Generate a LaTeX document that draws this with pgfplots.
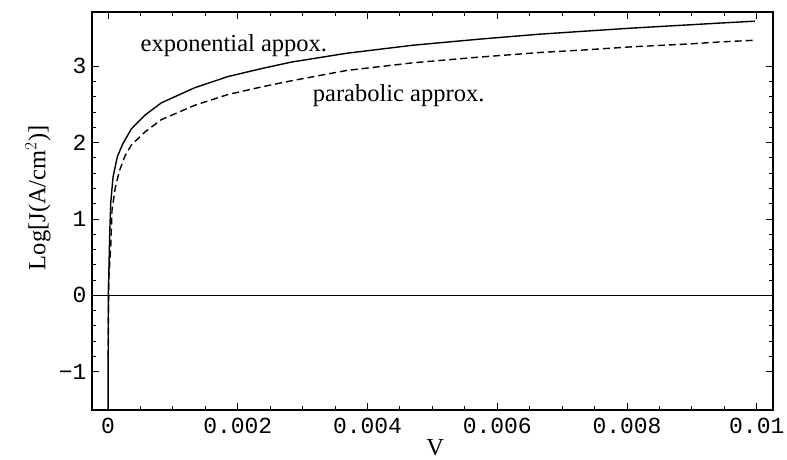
\documentclass[border=0pt]{standalone}
\usepackage{fontspec}
\setmainfont{Liberation Serif}
\newfontfamily\tickfont{Liberation Mono}
\usepackage{pgfplots}
\pgfplotsset{compat=1.18}
\begin{document}
\begin{tikzpicture}
\begin{axis}[
  at={(0,0)}, anchor=south west,
  scale only axis, width=681bp, height=398bp,
  xmin=-0.000247, xmax=0.01025, ymin=-1.5, ymax=3.71,
  axis line style={line width=1.3bp},
  xtick={0,0.002,0.004,0.006,0.008,0.01},
  xticklabels={0,0.002,0.004,0.006,0.008,0.01},
  ytick={-1,0,1,2,3},
  yticklabels={−1,0,1,2,3},
  scaled x ticks=false,
  minor x tick num=3, minor y tick num=4,
  tick align=inside,
  major tick length=7bp, minor tick length=4bp,
  every tick/.style={black, line width=1bp},
  tick label style={font=\tickfont\fontsize{23bp}{26bp}\selectfont},
  xticklabel style={yshift=-5bp},
  yticklabel style={xshift=-2bp},
  xlabel={V},
  ylabel={Log[J(A/cm$^{2}$)]},
  label style={font=\fontsize{24.5bp}{28bp}\selectfont, inner sep=0pt},
  xlabel style={at={(axis description cs:0.504,-0.094)}, anchor=center},
  ylabel style={at={(axis description cs:-0.0793,0.533)}, anchor=center},
]
\draw[line width=1.3bp] (axis cs:-0.000247,0) -- (axis cs:0.01025,0);
% exponential approximation
\addplot[black, line width=1.4bp] coordinates {
(0,-1.6) (0.000005,0) (0.000026,0.81) (0.000042,1.21) (0.000077,1.55)
(0.000145,1.82) (0.000231,1.99) (0.00036,2.18) (0.00057,2.36) (0.00082,2.52)
(0.00134,2.72) (0.00185,2.865) (0.00237,2.97) (0.00283,3.055) (0.00368,3.17)
(0.0047,3.275) (0.00573,3.355) (0.00666,3.42) (0.00728,3.455) (0.00809,3.50)
(0.00892,3.54) (0.00943,3.565) (0.00997,3.59)
};
% parabolic approximation
\addplot[black, line width=1.4bp, dash pattern=on 7bp off 4bp] coordinates {
(0.000003,-0.8) (0.00001,0.2) (0.000042,0.64) (0.000062,1.12) (0.000114,1.42)
(0.00018,1.64) (0.000258,1.82) (0.00036,1.97) (0.00057,2.14) (0.00082,2.30)
(0.00134,2.49) (0.00185,2.63) (0.00237,2.73) (0.00283,2.81) (0.00368,2.945)
(0.0047,3.045) (0.00573,3.12) (0.00666,3.18) (0.00728,3.21) (0.00809,3.255)
(0.00892,3.29) (0.00943,3.318) (0.00997,3.34)
};
\node[font=\fontsize{24.5bp}{28bp}\selectfont] at (axis cs:0.00194,3.27) {exponential appox.};
\node[font=\fontsize{24.5bp}{28bp}\selectfont] at (axis cs:0.00448,2.62) {parabolic approx.};
\end{axis}
\pgfresetboundingbox
\path[use as bounding box] (-92bp,-50bp) rectangle (695bp,410bp);
\end{tikzpicture}
\end{document}
